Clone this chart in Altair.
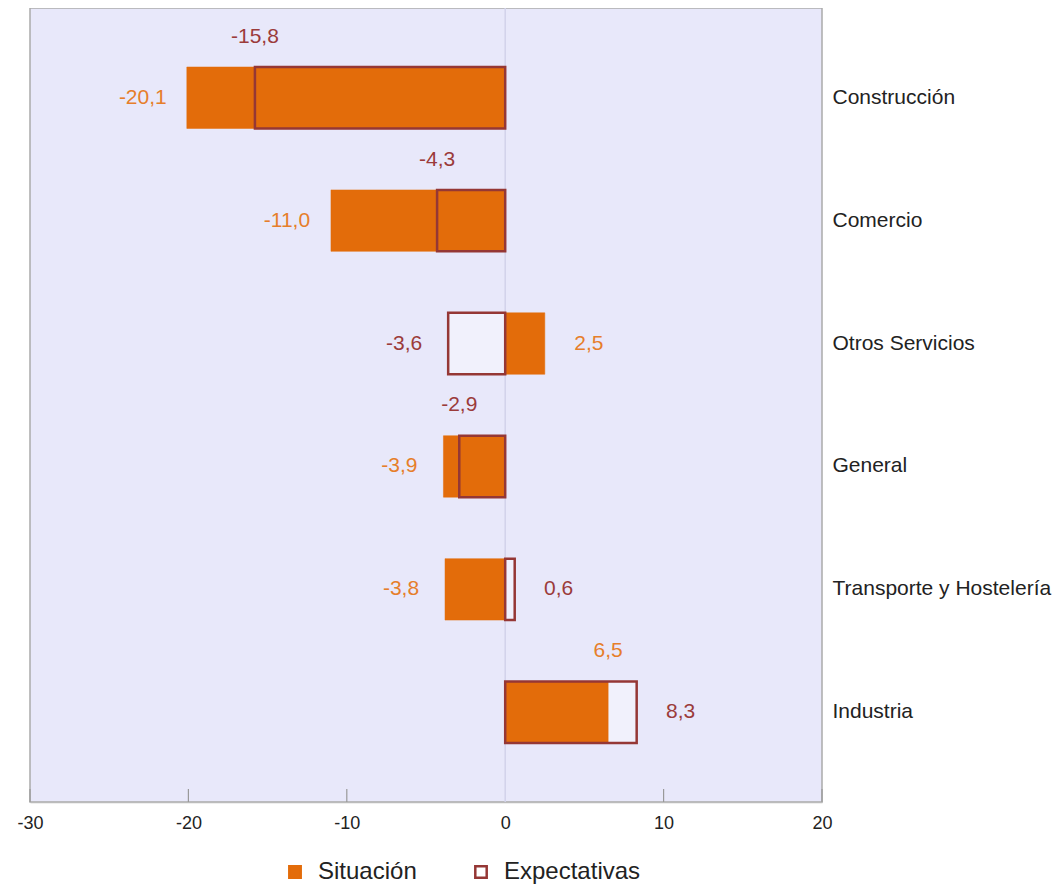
import altair as alt
import pandas as pd

categories = ["Construcción", "Comercio", "Otros Servicios", "General",
              "Transporte y Hostelería", "Industria"]
situacion = [-20.1, -11.0, 2.5, -3.9, -3.8, 6.5]
expectativas = [-15.8, -4.3, -3.6, -2.9, 0.6, 8.3]
series = ["Situación", "Expectativas"]
x_ticks = [-30, -20, -10, 0, 10, 20]

ORANGE = "#E36C0A"
RED = "#953735"
TXT_OR = "#E67E2A"
TXT_RED = "#9B3B3A"
BG = "#E8E8FA"
FONT = "Liberation Sans"
W, H = 792, 794

rows = []
for c, s, e in zip(categories, situacion, expectativas):
    if s * e < 0:
        ps, pe = "side", "side"
    elif abs(s) >= abs(e):
        ps, pe = "side", "above"
    else:
        ps, pe = "above", "side"
    rows.append({"cat": c, "serie": series[0], "value": s, "place": ps,
                 "label": f"{s:.1f}".replace(".", ",")})
    rows.append({"cat": c, "serie": series[1], "value": e, "place": pe,
                 "label": f"{e:.1f}".replace(".", ",")})
df = pd.DataFrame(rows)
ticks_df = pd.DataFrame({"t": x_ticks})

xscale = alt.Scale(domain=[x_ticks[0], x_ticks[-1]], nice=False, zero=False)
yscale = alt.Scale(domain=categories, paddingInner=0.5, paddingOuter=0.48)

X = alt.X("value:Q", scale=xscale,
          axis=alt.Axis(values=x_ticks, title=None, grid=False, ticks=False,
                        domainColor="#BBBBBB", domainWidth=1.5, labelFlush=False,
                        labelFontSize=18, labelColor="#222222", labelFont=FONT,
                        labelPadding=12, labelExpr="'' + datum.value"))
Y = alt.Y("cat:N", scale=yscale, sort=categories,
          axis=alt.Axis(orient="right", title=None, ticks=False, domain=False,
                        labelFontSize=21, labelColor="#222222", labelFont=FONT,
                        labelPadding=10, labelLimit=400, labelAlign="left"))

leg = alt.Legend(title=None, orient="none", legendX=253, legendY=852,
                 direction="horizontal", labelFontSize=24, labelFont=FONT,
                 labelColor="#222222", symbolType="square", symbolSize=130,
                 symbolStrokeWidth=2.5, columnPadding=52, labelOffset=11)
fill_enc = alt.Fill("serie:N", scale=alt.Scale(domain=series, range=[ORANGE, "transparent"]),
                    legend=leg)
stroke_enc = alt.Stroke("serie:N", scale=alt.Scale(domain=series, range=[ORANGE, RED]),
                        legend=leg)

base = alt.Chart(df)

zero_line = alt.Chart(ticks_df).transform_filter("datum.t == 0").mark_rule(
    color="#D2D2EA", strokeWidth=1.5).encode(
    x=alt.X("t:Q", scale=xscale), y=alt.value(0), y2=alt.value(H))

tick_rules = alt.Chart(ticks_df).transform_filter("datum.t != 0").mark_rule(
    color="#999999", strokeWidth=1.2).encode(
    x=alt.X("t:Q", scale=xscale), y=alt.value(H), y2=alt.value(H - 13))

exp_fill = base.transform_filter(f"datum.serie == '{series[1]}'").mark_bar(
    fill="white", fillOpacity=0.4, strokeWidth=0).encode(x=X, y=Y)

sit_bars = base.transform_filter(f"datum.serie == '{series[0]}'").mark_bar(
    strokeWidth=0.5).encode(x=X, y=Y, fill=fill_enc, stroke=stroke_enc)

exp_bars = base.transform_filter(f"datum.serie == '{series[1]}'").mark_bar(
    strokeWidth=2.5).encode(x=X, y=Y, fill=fill_enc, stroke=stroke_enc)

tcolor = alt.Color("serie:N", scale=alt.Scale(domain=series, range=[TXT_OR, TXT_RED]),
                   legend=None)
tx = alt.X("value:Q", scale=xscale)
ty = alt.Y("cat:N", scale=yscale, sort=categories)

text_neg = base.transform_filter("datum.place == 'side' && datum.value < 0").mark_text(
    fontSize=21, font=FONT, align="center", baseline="middle", dx=-44).encode(
    x=tx, y=ty, text="label:N", color=tcolor)
text_pos = base.transform_filter("datum.place == 'side' && datum.value >= 0").mark_text(
    fontSize=21, font=FONT, align="center", baseline="middle", dx=44).encode(
    x=tx, y=ty, text="label:N", color=tcolor)
text_above = base.transform_filter("datum.place == 'above'").mark_text(
    fontSize=21, font=FONT, align="center", baseline="middle", dy=-61).encode(
    x=tx, y=ty, text="label:N", color=tcolor)

chart = alt.layer(zero_line, tick_rules, exp_fill, sit_bars, exp_bars,
                  text_neg, text_pos, text_above).properties(
    width=W, height=H, autosize="none",
    padding={"left": 22, "top": 0, "right": 233, "bottom": 83},
    background="white",
).configure_view(fill=BG, stroke="#AAAAAA", strokeWidth=1.5)

chart.save("out.html", embed_options={"renderer": "svg", "actions": False})
